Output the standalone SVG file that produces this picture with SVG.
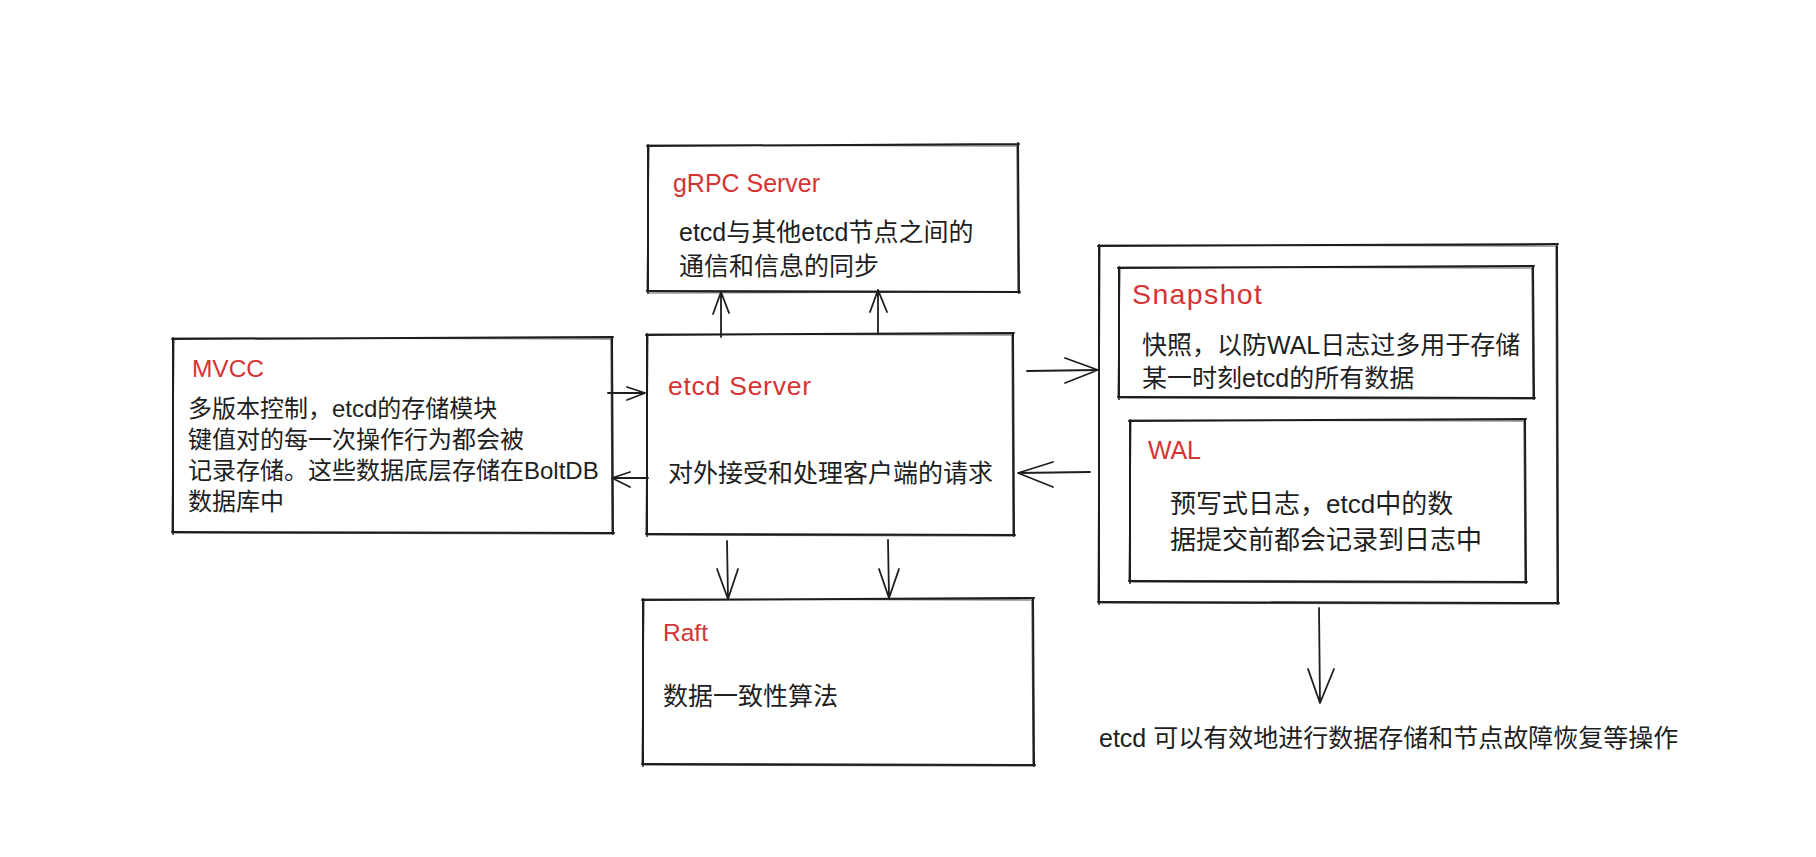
<svg xmlns="http://www.w3.org/2000/svg" width="1816" height="857" viewBox="0 0 1816 857">
<style>
.b1{fill:none;stroke:#1e1e1e;stroke-width:2;stroke-linecap:round}
.b2{fill:none;stroke:#1e1e1e;stroke-width:1.2;stroke-linecap:round;opacity:.75}
.c{fill:none;stroke:#1e1e1e;stroke-width:1.8;stroke-linecap:round;stroke-linejoin:round}
.t{font-family:"Liberation Sans","Noto Sans CJK SC",sans-serif;fill:#1e1e1e}
.r{font-family:"Liberation Sans","Noto Sans CJK SC",sans-serif;fill:#d63333}
</style>
<rect x="0" y="0" width="1816" height="857" fill="#ffffff"/>
<g id="grpc">
<path class="b1" d="M647 146 L1019 144 M1018 143 L1019 293 M1020 292 L647 291 M648 293 L648 145"/>
<path class="b2" d="M649 145 L1017 146 M1017 146 L1018 291 M1018 292 L649 293 M647 292 L649 146"/>
<text class="r" x="673" y="192" font-size="25" textLength="147">gRPC Server</text>
<text class="t" x="679" y="241" font-size="25">etcd与其他etcd节点之间的</text>
<text class="t" x="679" y="275" font-size="25">通信和信息的同步</text>
</g>
<g id="etcd">
<path class="b1" d="M646 335 L1014 333 M1013 333 L1014 536 M1015 535 L646 534 M647 536 L647 334"/>
<path class="b2" d="M648 334 L1012 335 M1012 335 L1013 534 M1013 536 L648 535 M646 534 L648 335"/>
<text class="r" x="668" y="395" font-size="26.5" textLength="143">etcd Server</text>
<text class="t" x="668" y="482" font-size="25">对外接受和处理客户端的请求</text>
</g>
<g id="mvcc">
<path class="b1" d="M172 339 L613 337 M612 337 L613 534 M614 533 L172 532 M173 534 L173 338"/>
<path class="b2" d="M174 338 L611 339 M611 339 L612 532 M612 534 L174 533 M172 532 L174 339"/>
<text class="r" x="192" y="377" font-size="24.5" textLength="72">MVCC</text>
<text class="t" x="188" y="417" font-size="24">多版本控制，etcd的存储模块</text>
<text class="t" x="188" y="448" font-size="24">键值对的每一次操作行为都会被</text>
<text class="t" x="188" y="479" font-size="24">记录存储。这些数据底层存储在BoltDB</text>
<text class="t" x="188" y="510" font-size="24">数据库中</text>
</g>
<g id="raft">
<path class="b1" d="M642 600 L1034 598 M1033 598 L1034 766 M1035 765 L642 764 M643 766 L643 599"/>
<path class="b2" d="M644 599 L1032 600 M1032 600 L1033 764 M1033 766 L644 765 M642 764 L644 600"/>
<text class="r" x="663" y="641" font-size="24.5" textLength="45">Raft</text>
<text class="t" x="663" y="705" font-size="25">数据一致性算法</text>
</g>
<g id="storage">
<path class="b1" d="M1098 246 L1558 244 M1557 244 L1558 604 M1559 603 L1098 602 M1099 604 L1099 245"/>
<path class="b2" d="M1100 245 L1556 246 M1556 246 L1557 602 M1557 604 L1100 603 M1098 602 L1100 246"/>
</g>
<g id="snapshot">
<path class="b1" d="M1118 268 L1534 266 M1533 266 L1534 399 M1535 398 L1118 397 M1119 399 L1119 267"/>
<path class="b2" d="M1120 267 L1532 268 M1532 268 L1533 397 M1533 399 L1120 398 M1118 397 L1120 268"/>
<text class="r" x="1132" y="304" font-size="28.5" textLength="130">Snapshot</text>
<text class="t" x="1142" y="354" font-size="25">快照，以防WAL日志过多用于存储</text>
<text class="t" x="1142" y="387" font-size="25">某一时刻etcd的所有数据</text>
</g>
<g id="wal">
<path class="b1" d="M1129 421 L1526 419 M1525 419 L1526 583 M1527 582 L1129 581 M1130 583 L1130 420"/>
<path class="b2" d="M1131 420 L1524 421 M1524 421 L1525 581 M1525 583 L1131 582 M1129 581 L1131 421"/>
<text class="r" x="1148" y="459" font-size="25" textLength="53">WAL</text>
<text class="t" x="1170" y="513" font-size="26">预写式日志，etcd中的数</text>
<text class="t" x="1170" y="549" font-size="26">据提交前都会记录到日志中</text>
</g>
<g id="result">
<text class="t" x="1099" y="747" font-size="25">etcd 可以有效地进行数据存储和节点故障恢复等操作</text>
</g>
<g id="connectors">
<path class="c" d="M721 337 L721 292 M713 314 L721 292 L729 313"/>
<path class="c" d="M878 334 L878 290 M870 312 L878 290 L887 312"/>
<path class="c" d="M727 541 L728 599 M717 569 L728 599 L738 569"/>
<path class="c" d="M888 540 L889 598 M879 569 L889 598 L899 569"/>
<path class="c" d="M608 393 L645 393 M627 387 L645 393 L627 400"/>
<path class="c" d="M648 478 L612 478 M630 472 L612 478 L630 487"/>
<path class="c" d="M1027 371 L1098 370 M1065 358 L1098 370 L1065 383"/>
<path class="c" d="M1090 472 L1018 473 M1053 462 L1018 473 L1053 487"/>
<path class="c" d="M1319 608 L1320 703 M1308 669 L1320 703 L1334 669"/>
</g>
</svg>
